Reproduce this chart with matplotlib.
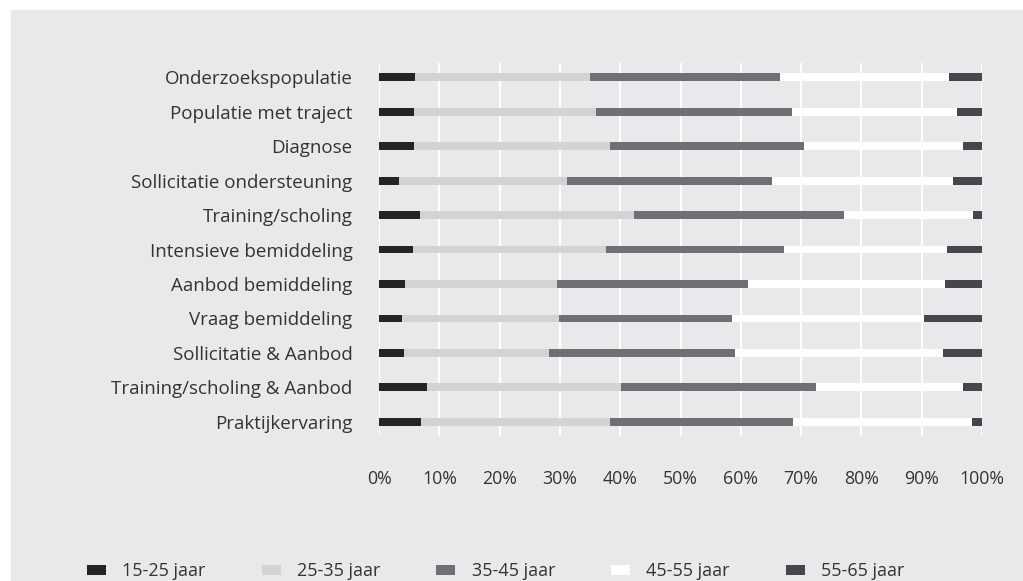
import matplotlib.pyplot as plt
import numpy as np
from matplotlib.patches import Rectangle
from matplotlib.ticker import FuncFormatter

plt.rcParams['font.family'] = ['Open Sans', 'DejaVu Sans']

# --- data (percent per age group) ---
categories = [
    "Onderzoekspopulatie", "Populatie met traject", "Diagnose",
    "Sollicitatie ondersteuning", "Training/scholing", "Intensieve bemiddeling",
    "Aanbod bemiddeling", "Vraag bemiddeling", "Sollicitatie & Aanbod",
    "Training/scholing & Aanbod", "Praktijkervaring",
]
age_15_25 = [5.9, 5.8, 5.8, 3.3, 6.8, 5.6, 4.3, 3.8, 4.1, 7.9, 6.9]
age_25_35 = [29.1, 30.2, 32.5, 27.9, 35.5, 32.0, 25.2, 26.0, 24.1, 32.2, 31.4]
age_35_45 = [31.5, 32.5, 32.2, 34.0, 34.8, 29.6, 31.7, 28.7, 30.8, 32.4, 30.4]
age_45_55 = [28.1, 27.4, 26.4, 30.0, 21.4, 27.0, 32.7, 31.9, 34.6, 24.4, 29.7]
age_55_65 = [5.4, 4.1, 3.1, 4.8, 1.5, 5.8, 6.1, 9.6, 6.4, 3.1, 1.6]

series = [age_15_25, age_25_35, age_35_45, age_45_55, age_55_65]
labels = ["15-25 jaar", "25-35 jaar", "35-45 jaar", "45-55 jaar", "55-65 jaar"]
colors = ["#242426", "#d2d3d5", "#706f74", "#ffffff", "#47464b"]

bg = "#e8e9eb"
txt = "#333335"

fig = plt.figure(figsize=(10.23, 5.81), dpi=100, facecolor="white")
# grey panel behind everything (white strip only at top and left)
fig.patches.append(Rectangle((11 / 1023, -0.1), 1.2, (581 - 10) / 581 + 0.1,
                             transform=fig.transFigure, color=bg, zorder=-1))

ax = fig.add_axes([379 / 1023, 0.2501, (982 - 379) / 1023, 0.891 - 0.2501])
ax.set_facecolor(bg)

y = np.arange(len(categories))
left = np.zeros(len(categories))
for vals, lab, col in zip(series, labels, colors):
    ax.barh(y, vals, left=left, height=0.23, color=col, label=lab, zorder=3)
    left += np.array(vals)

ax.set_xlim(0, 100)
ax.set_ylim(len(categories) - 0.6, -0.4)
ax.set_xticks(np.arange(0, 101, 10))
ax.xaxis.set_major_formatter(FuncFormatter(lambda v, p: f"{int(v)}%"))
ax.set_yticks(y)
ax.set_yticklabels(categories)

ax.grid(axis="x", color="white", linewidth=1.4, zorder=0)
ax.set_axisbelow(True)
for s in ax.spines.values():
    s.set_visible(False)
ax.tick_params(axis="x", length=0, pad=24.5, labelsize=12.8, labelcolor=txt)
ax.tick_params(axis="y", length=0, pad=19, labelsize=13.5, labelcolor=txt)

fig.legend(loc="center left", bbox_to_anchor=(71 / 1023, 0.017), ncol=5,
           frameon=False, fontsize=13, handlelength=1.05, handleheight=0.45,
           handletextpad=0.9, columnspacing=3.1, labelcolor=txt)

plt.savefig("out.png", dpi=100, facecolor=fig.get_facecolor())
